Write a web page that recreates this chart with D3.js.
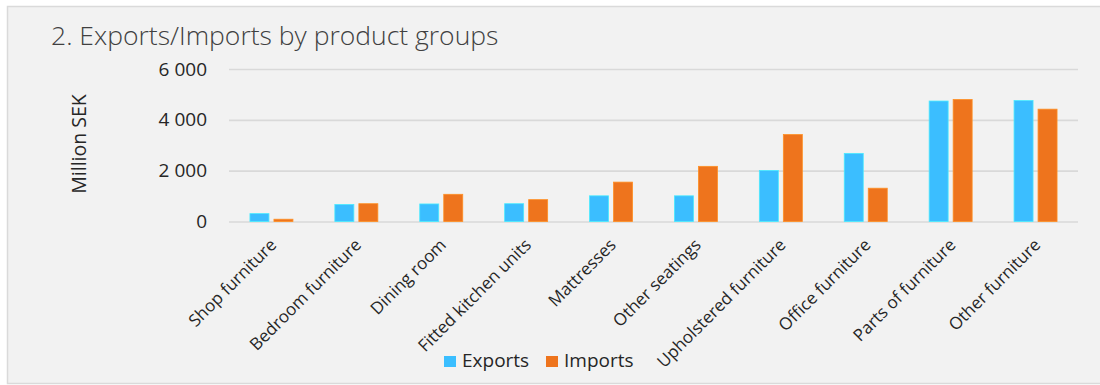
<!DOCTYPE html>
<html>
<head>
<meta charset="utf-8">
<script src="https://cdn.jsdelivr.net/npm/d3@7"></script>
<style>
	html, body { margin: 0; padding: 0; background: #fff; }
	svg { display: block; font-family: "Open Sans", sans-serif; }
</style>
</head>
<body>
<div id="chart"></div>
<script>
(function () {

	var categories = ['Shop furniture', 'Bedroom furniture', 'Dining room', 'Fitted kitchen units', 'Mattresses',
		'Other seatings', 'Upholstered furniture', 'Office furniture', 'Parts of furniture', 'Other furniture'];
	var exportsValues = [310, 670, 690, 700, 1010, 1010, 2010, 2680, 4740, 4760];
	var importsValues = [90, 700, 1070, 860, 1550, 2170, 3420, 1310, 4800, 4420];
	var seriesNames = ['Exports', 'Imports'];
	var yTicks = [0, 2000, 4000, 6000];

	var colors = { Exports: '#3bbeff', Imports: '#ee741d' };
	var width = 1100, height = 385;
	var plot = { left: 229, right: 1078, top: 69, bottom: 221.5 };

	var svg = d3.select('#chart').append('svg').attr('width', width).attr('height', height);

	// grey panel
	svg.append('rect')
		.attr('x', 7.5).attr('y', 6.5)
		.attr('width', width).attr('height', 377)
		.attr('fill', '#f2f2f2')
		.attr('stroke', '#dadada')
		.attr('stroke-width', 1.5);

	svg.append('text')
		.attr('x', 51).attr('y', 45)
		.attr('font-size', 26.5)
		.attr('font-weight', 300)
		.attr('fill', '#404040')
		.text('2. Exports/Imports by product groups');

	var x = d3.scaleBand().domain(categories).range([plot.left, plot.right]);
	var y = d3.scaleLinear().domain([0, 6000]).range([plot.bottom, plot.top]);
	var xSub = d3.scaleBand().domain(seriesNames).range([-21.5, 21.5]).paddingInner(5 / 24);

	var sek = d3.formatLocale({ decimal: '.', thousands: '\u2009', grouping: [3], currency: ['', ''] }).format(',');
	var fmt = function (d) { return sek(d).replace('\u2009', ' '); };

	var yAxis = svg.append('g')
		.attr('transform', 'translate(' + plot.left + ',0)')
		.call(d3.axisLeft(y).tickValues(yTicks).tickFormat(fmt)
			.tickSizeInner(-(plot.right - plot.left)).tickSizeOuter(0).tickPadding(22));
	yAxis.select('.domain').remove();
	yAxis.selectAll('.tick line').attr('stroke', '#d9d9d9').attr('stroke-width', 1.6);
	yAxis.selectAll('.tick text')
		.attr('font-size', 19)
		.attr('font-family', '"Open Sans", sans-serif')
		.attr('fill', '#262626');

	svg.append('text')
		.attr('transform', 'translate(86,144) rotate(-90)')
		.attr('text-anchor', 'middle')
		.attr('font-size', 19.5)
		.attr('fill', '#262626')
		.text('Million SEK');

	var rows = categories.map(function (c, i) {
		return { cat: c, values: [{ key: 'Exports', v: exportsValues[i] }, { key: 'Imports', v: importsValues[i] }] };
	});

	var groups = svg.append('g').selectAll('g').data(rows).enter().append('g')
		.attr('transform', function (d) { return 'translate(' + (x(d.cat) + x.bandwidth() / 2) + ',0)'; });

	groups.selectAll('rect').data(function (d) { return d.values; }).enter().append('rect')
		.attr('x', function (d) { return xSub(d.key); })
		.attr('y', function (d) { return y(d.v); })
		.attr('width', xSub.bandwidth())
		.attr('height', function (d) { return y(0) - y(d.v); })
		.attr('fill', function (d) { return colors[d.key]; })
		.attr('stroke', function (d) { return d3.color(colors[d.key]).brighter(0.6); })
		.attr('stroke-width', 0.8);

	// category labels at -45 degrees
	svg.append('g').selectAll('text').data(categories).enter().append('text')
		.attr('transform', function (d) {
			return 'translate(' + (x(d) + x.bandwidth() / 2 + 6) + ',246) rotate(-45)';
		})
		.attr('text-anchor', 'end')
		.attr('font-size', 17)
		.attr('fill', '#262626')
		.text(function (d) { return d; });

	// legend
	var legendX = [444, 546];
	var legend = svg.append('g').selectAll('g').data(seriesNames).enter().append('g')
		.attr('transform', function (d, i) { return 'translate(' + legendX[i] + ',356)'; });
	legend.append('rect')
		.attr('width', 12).attr('height', 11)
		.attr('fill', function (d) { return colors[d]; });
	legend.append('text')
		.attr('x', 18).attr('y', 11)
		.attr('font-size', 19)
		.attr('fill', '#262626')
		.text(function (d) { return d; });

}());
</script>
</body>
</html>
